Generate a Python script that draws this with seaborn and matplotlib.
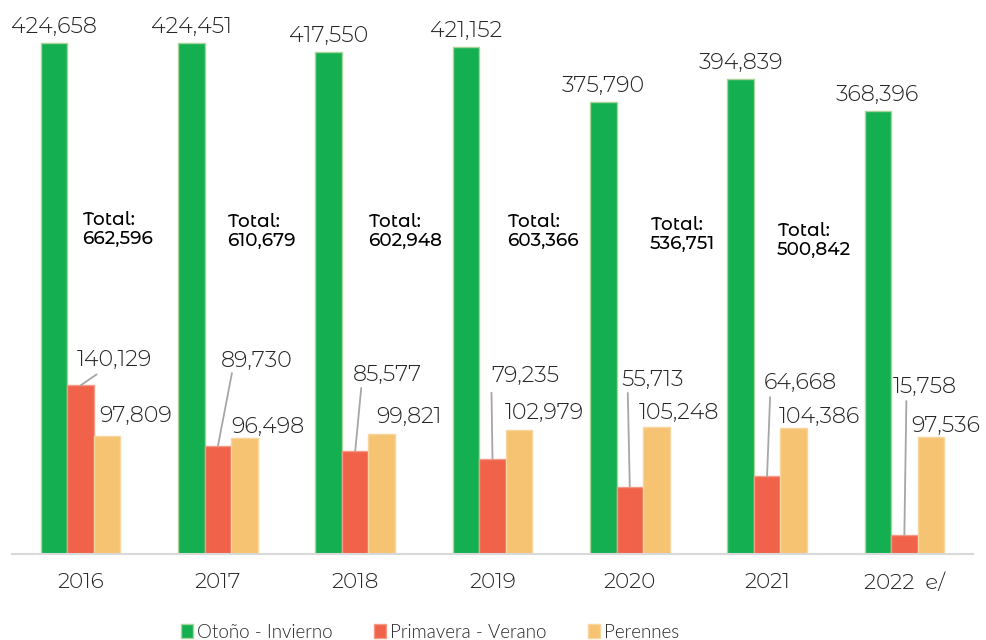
import matplotlib
matplotlib.use("Agg")
import matplotlib.pyplot as plt
from matplotlib.patches import Patch
import seaborn as sns
import pandas as pd

# ---------------- data ----------------
years = ["2016", "2017", "2018", "2019", "2020", "2021", "2022  e/"]
series = ["Otoño - Invierno", "Primavera - Verano", "Perennes"]
otono_invierno = [424658, 424451, 417550, 421152, 375790, 394839, 368396]
primavera_verano = [140129, 89730, 85577, 79235, 55713, 64668, 15758]
perennes = [97809, 96498, 99821, 102979, 105248, 104386, 97536]
totals = [662596, 610679, 602948, 603366, 536751, 500842]

# ---------------- layout (pixel offsets for annotations) ----------------
red_text_off = [(-4, 19), (3, 79), (-2, 70), (-1, 77), (-8, 101), (-3, 87), (-12, 142)]
red_line_end = [(16, 11), (14, 73), (6, 63), (-1, 66), (-2, 94), (3, 79), (2, 134)]
yel_text_off = [(5, 14), (0, 5), (8, 11), (-1, 11), (-4, 8), (-2, 5), (-6, 5)]
tot_off = [(1, 329), (9, 327), (13, 327), (15, 327), (20, 324), (10, 318)]

colors = ["#13AF50", "#F0624A", "#F6C372"]
edges = ["#A9D59A", "#F59A86", "#F9D59E"]
FONT = ["Montserrat Alternates", "DejaVu Sans"]
LEG_FONT = ["Lato", "DejaVu Sans"]
TXT = "#262626"

sns.set_theme(style="white")
plt.rcParams["font.family"] = FONT
plt.rcParams["font.weight"] = 300

df = pd.DataFrame({
    "year": years * 3,
    "series": [series[0]] * 7 + [series[1]] * 7 + [series[2]] * 7,
    "value": otono_invierno + primavera_verano + perennes,
})

fig = plt.figure(figsize=(9.86, 6.4), dpi=100)
ax = fig.add_axes([12 / 986, 86 / 640, 961 / 986, 554 / 640])

sns.barplot(data=df, x="year", y="value", hue="series", hue_order=series,
            order=years, palette=colors, width=0.58, gap=0, saturation=1,
            legend=False, ax=ax, linewidth=1)

for cont, ec in zip(ax.containers, edges):
    for p in cont:
        p.set_edgecolor(ec)
        p.set_linewidth(1)

ax.set_ylim(0, 460390)
ax.set_xlim(-0.5, 6.5)
ax.set_yticks([])
ax.set_xlabel("")
ax.set_ylabel("")
for s in ["top", "left", "right"]:
    ax.spines[s].set_visible(False)
ax.spines["bottom"].set_color("#D9D9D9")
ax.spines["bottom"].set_linewidth(1.5)
ax.tick_params(axis="x", length=0, pad=14, labelsize=15.5, labelcolor=TXT)
for t in ax.get_xticklabels():
    t.set_fontweight(300)

green_c, red_c, yel_c = ax.containers
LBL = 16

def fmt(v):
    return f"{v:,}"

# green labels
for p, v in zip(green_c, otono_invierno):
    x = p.get_x() + p.get_width() / 2
    ax.annotate(fmt(v), xy=(x, p.get_height()), xytext=(0, 10),
                textcoords="offset pixels", ha="center", va="baseline",
                fontsize=LBL, color=TXT, fontweight=300, annotation_clip=False)

# red labels with leader lines
for p, v, to, le in zip(red_c, primavera_verano, red_text_off, red_line_end):
    x = p.get_x() + p.get_width() / 2
    y = p.get_height()
    ax.annotate(fmt(v), xy=(x, y), xytext=to, textcoords="offset pixels",
                ha="left", va="baseline", fontsize=LBL, color=TXT,
                fontweight=300, annotation_clip=False)
    ax.annotate("", xy=(x, y), xytext=le, textcoords="offset pixels",
                arrowprops=dict(arrowstyle="-", color="#A6A6A6", lw=1.3,
                                shrinkA=0, shrinkB=0))

# yellow labels
for p, v, to in zip(yel_c, perennes, yel_text_off):
    ax.annotate(fmt(v), xy=(p.get_x(), p.get_height()), xytext=to,
                textcoords="offset pixels", ha="left", va="baseline",
                fontsize=LBL, color=TXT, fontweight=300, annotation_clip=False)

# totals
for i, (tv, off) in enumerate(zip(totals, tot_off)):
    ax.annotate("Total:", xy=(i, 0), xytext=off, textcoords="offset pixels",
                ha="left", va="baseline", fontsize=13.3, color="black",
                fontweight=500)
    ax.annotate(fmt(tv), xy=(i, 0), xytext=(off[0], off[1] - 19),
                textcoords="offset pixels", ha="left", va="baseline",
                fontsize=13.3, color="black", fontweight=500)

handles = [Patch(facecolor=c, edgecolor=e, linewidth=1) for c, e in zip(colors, edges)]
fig.legend(handles, series, loc="center", bbox_to_anchor=(0.436, 0.0125),
           ncol=3, frameon=False, handlelength=0.65,
           handleheight=0.78, handletextpad=0.2, columnspacing=2.2,
           borderpad=0, labelcolor=TXT,
           prop={"family": LEG_FONT, "weight": 300, "size": 13.5})

fig.savefig("out.png", dpi=100)
